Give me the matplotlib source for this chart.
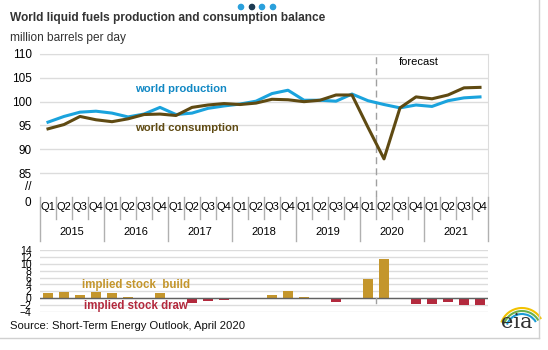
import numpy as np
import matplotlib
matplotlib.use("Agg")
import matplotlib.pyplot as plt
from matplotlib.patches import Arc

plt.rcParams['font.family'] = ['Liberation Sans', 'DejaVu Sans']

years = ['2015', '2016', '2017', '2018', '2019', '2020', '2021']
quarters = ['Q1', 'Q2', 'Q3', 'Q4']

# million barrels per day, 2015Q1 .. 2021Q4
production = [95.7, 96.9, 97.8, 98.0, 97.6, 96.8, 97.4, 98.8,
              97.3, 97.6, 98.6, 99.1, 99.5, 100.1, 101.7, 102.4,
              100.3, 100.3, 100.1, 101.6, 100.2, 99.4, 98.7, 99.3,
              99.0, 100.2, 100.8, 101.0]
consumption = [94.3, 95.2, 96.9, 96.2, 95.8, 96.4, 97.3, 97.4,
               97.1, 98.8, 99.3, 99.6, 99.4, 99.7, 100.5, 100.4,
               100.0, 100.3, 101.4, 101.4, 94.6, 88.0, 98.7, 101.0,
               100.6, 101.4, 102.9, 103.0]
stock_change = [1.5, 1.7, 1.0, 1.7, 1.5, 0.4, 0.1, 1.4,
                -0.1, -1.5, -0.8, -0.6, 0.0, 0.1, 1.0, 2.0,
                0.4, 0.0, -1.2, 0.1, 5.7, 11.4, 0.1, -1.6,
                -1.6, -1.2, -2.0, -2.0]

W, H = 548, 350
fig = plt.figure(figsize=(W / 100, H / 100), dpi=100)

def fbox(x0, y0, x1, y1):
    return [x0 / W, 1 - y1 / H, (x1 - x0) / W, (y1 - y0) / H]

prod_c = '#1aa3dd'
cons_c = '#5f4a12'
build_c = '#c4962c'
draw_c = '#b3293d'
grid_c = '#dcdcdc'
x = np.arange(len(production))
xl = (-0.5, len(production) - 0.5)

# top panel
ax = fig.add_axes(fbox(40, 54, 488, 197))
ax.plot(x, production, color=prod_c, lw=2.2, zorder=3)
ax.plot(x, consumption, color=cons_c, lw=2.2, zorder=3)
ax.set_xlim(*xl)
ax.set_ylim(80, 110)
ax.set_yticks([85, 90, 95, 100, 105, 110])
ax.set_yticks([82.5], minor=True)
ax.set_yticklabels(['//'], minor=True)
ax.tick_params(axis='y', which='both', length=0, labelsize=8.5, pad=6)
ax.set_xticks([])
ax.grid(axis='y', color=grid_c, lw=1)
for s in ax.spines.values():
    s.set_color(grid_c)
ax.spines['left'].set_visible(False)
ax.spines['bottom'].set_visible(False)
ax.text(-1.05, 78.7, '0', ha='right', va='center', fontsize=8.5, clip_on=False)
ax.axvline(20.5, color='#a0a0a0', lw=1, ls=(0, (5, 3)))
ax.text(23.2, 108.3, 'forecast', fontsize=8, ha='center', va='center')
ax.text(5.45, 102.6, 'world production', color='#1188c4', fontsize=8.1,
        fontweight='bold', ha='left', va='center')
ax.text(5.45, 94.4, 'world consumption', color=cons_c, fontsize=8.1,
        fontweight='bold', ha='left', va='center')

# category axis
cax = fig.add_axes(fbox(40, 197, 488, 241))
cax.set_xlim(*xl)
cax.set_ylim(0, 1)
cax.axis('off')
for i in range(len(production) + 1):
    xb = i - 0.5
    top = 1.0 if i % 4 == 0 else 0.5
    cax.plot([xb, xb], [1 - top, 1], color='#b0b0b0', lw=1, clip_on=False)
    if i < len(production):
        cax.text(i, 0.77, quarters[i % 4], ha='center', va='center', fontsize=8)
for j, yr in enumerate(years):
    cax.text(4 * j + 1.5, 0.2, yr, ha='center', va='center', fontsize=8)

# bottom panel
bx = fig.add_axes(fbox(40, 250, 488, 312))
cols = [build_c if v >= 0 else draw_c for v in stock_change]
bx.bar(x, stock_change, width=0.65, color=cols, zorder=3)
bx.axhline(0, color='#606060', lw=1, zorder=4)
bx.set_xlim(*xl)
bx.set_ylim(-4, 14)
bx.set_yticks(np.arange(-4, 15, 2))
bx.tick_params(axis='y', length=0, labelsize=7.5, pad=6)
bx.set_xticks([])
bx.grid(axis='y', color=grid_c, lw=1)
for s in bx.spines.values():
    s.set_visible(False)
bx.plot([20.5, 20.5], [-1.5, 0], color='#a0a0a0', lw=1, zorder=5)
bx.text(5.5, 3.8, 'implied stock  build', color=build_c, fontsize=8.3,
        fontweight='bold', ha='center', va='center')
bx.text(5.5, -2.4, 'implied stock draw', color=draw_c, fontsize=8.3,
        fontweight='bold', ha='center', va='center')

# texts
fig.text(10 / W, 1 - 18 / H, 'World liquid fuels production and consumption balance',
         fontsize=8.6, fontweight='bold', color='#333333', va='center')
fig.text(10 / W, 1 - 38 / H, 'million barrels per day', fontsize=8.6, color='#333333',
         va='center')
fig.text(10 / W, 1 - 326 / H, 'Source: Short-Term Energy Outlook, April 2020',
         fontsize=8.1, color='#111111', va='center')

# overlay: dots, frame, logo
ov = fig.add_axes([0, 0, 1, 1])
ov.set_xlim(0, W)
ov.set_ylim(H, 0)
ov.axis('off')
ov.patch.set_alpha(0)
ov.scatter([241, 252, 262, 273], [7, 7, 7, 7], s=14,
           color=['#2aa0dc', '#1c3a52', '#2aa0dc', '#2aa0dc'])
ov.plot([539, 539], [0, 338], color='#d0d0d0', lw=1)
ov.plot([0, 539], [338, 338], color='#d0d0d0', lw=1)
ov.text(517, 332, 'eia', fontsize=15, family='DejaVu Serif', color='#333333',
        ha='center', va='bottom')
for r, c in [(22, '#f2c200'), (19, '#6ab04c'), (16, '#1a9ad6')]:
    ov.add_patch(Arc((522, 330), 2 * r, 2 * r, theta1=200, theta2=330,
                     color=c, lw=1.5))

fig.savefig('out.png', dpi=100)
